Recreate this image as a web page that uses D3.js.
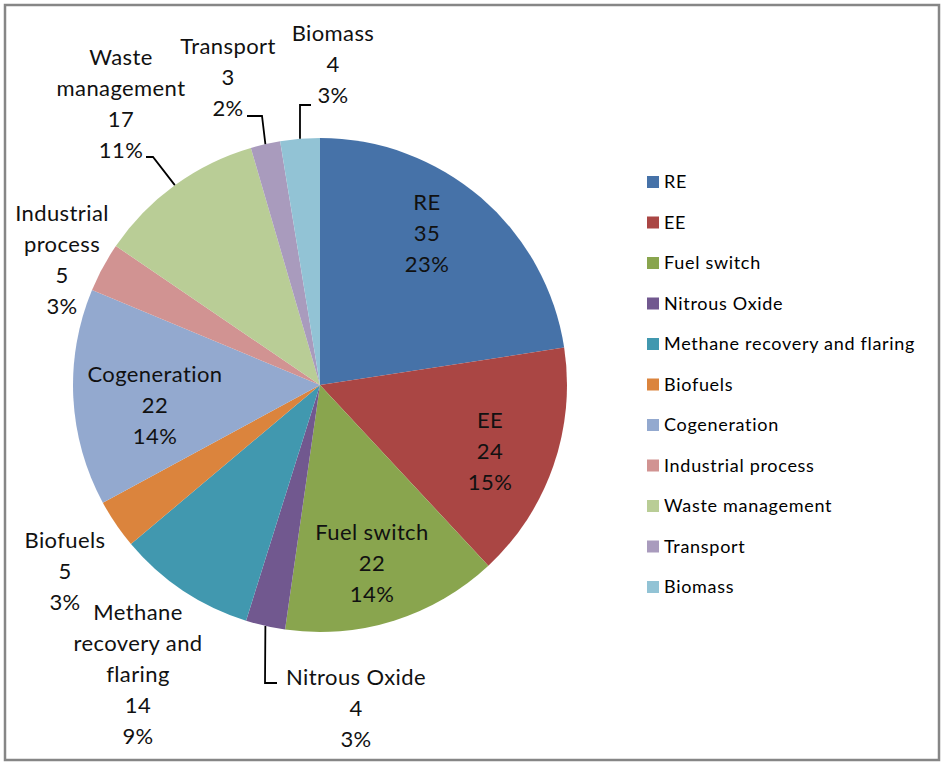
<!DOCTYPE html>
<html>
<head>
<meta charset="utf-8">
<script src="https://cdn.jsdelivr.net/npm/d3@7.9.0/dist/d3.min.js"></script>
<style>
  html, body { margin: 0; padding: 0; background: #fff; }
  svg { display: block; font-family: Lato, 'Open Sans', sans-serif; }
</style>
</head>
<body>
<svg id="chart" width="944" height="763"></svg>
<script>
// chart data
const categories = ['RE', 'EE', 'Fuel switch', 'Nitrous Oxide', 'Methane recovery and flaring',
  'Biofuels', 'Cogeneration', 'Industrial process', 'Waste management', 'Transport', 'Biomass'];
const values = [35, 24, 22, 4, 14, 5, 22, 5, 17, 3, 4];
const colors = ['#4672a8', '#aa4644', '#89a54e', '#71588f', '#4198af', '#db843d',
  '#93a9cf', '#d19392', '#b9cd96', '#a99bbd', '#92c3d5'];

// how each data label is broken into lines (name part)
const labelNames = [['RE'], ['EE'], ['Fuel switch'], ['Nitrous Oxide'], ['Methane', 'recovery and', 'flaring'],
  ['Biofuels'], ['Cogeneration'], ['Industrial', 'process'], ['Waste', 'management'], ['Transport'], ['Biomass']];

// label placement (centre x, first line y), roughly where excel put them
const labelPos = {
  'RE': [427, 202],
  'EE': [490, 420],
  'Fuel switch': [372, 532],
  'Nitrous Oxide': [356, 677],
  'Methane recovery and flaring': [138, 612],
  'Biofuels': [65, 540],
  'Cogeneration': [155, 374],
  'Industrial process': [62, 213],
  'Waste management': [121, 57],
  'Transport': [228, 46],
  'Biomass': [333, 33]
};

// leader lines: elbow point and end point next to the label
const leaders = {
  'Nitrous Oxide': [[265, 683], [277, 683]],
  'Waste management': [[153, 157], [146, 157]],
  'Transport': [[262, 116], [247, 116]],
  'Biomass': [[300, 105], [311, 105]]
};

const width = 944;
const height = 763;
const cx = 320, cy = 385, radius = 247;
const lineH = 31;

const svg = d3.select('#chart');

// outer frame
svg.append('rect')
  .attr('x', 5).attr('y', 5)
  .attr('width', 934).attr('height', 755)
  .attr('fill', '#fff')
  .attr('stroke', '#868686')
  .attr('stroke-width', 2.5);

const data = categories.map((c, i) => ({ name: c, value: values[i], color: colors[i], lines: labelNames[i] }));
const total = d3.sum(values);

const pie = d3.pie().value(d => d.value).sort(null);
const arcs = pie(data);
const arc = d3.arc().innerRadius(0).outerRadius(radius);

const g = svg.append('g').attr('transform', `translate(${cx},${cy})`);

g.selectAll('path')
  .data(arcs)
  .join('path')
  .attr('d', arc)
  .attr('fill', d => d.data.color);

// leader lines, from the middle of the slice edge
const lineGen = d3.line();
arcs.filter(d => leaders[d.data.name]).forEach(d => {
  const mid = (d.startAngle + d.endAngle) / 2;
  const p0 = [cx + radius * Math.sin(mid), cy - radius * Math.cos(mid)];
  const pts = [p0, ...leaders[d.data.name]];
  svg.append('path')
    .attr('d', lineGen(pts))
    .attr('fill', 'none')
    .attr('stroke', '#000')
    .attr('stroke-width', 1.8);
});

// data labels: name / value / percent
const fmtPct = v => Math.round(v / total * 100) + '%';
const labels = svg.append('g').attr('class', 'labels');
data.forEach(d => {
  const [x, y] = labelPos[d.name];
  const rows = [...d.lines, String(d.value), fmtPct(d.value)];
  const t = labels.append('text')
    .attr('text-anchor', 'middle')
    .attr('font-size', 22)
    .attr('letter-spacing', 0.4)
    .attr('fill', '#111');
  rows.forEach((r, i) => {
    t.append('tspan')
      .attr('x', x)
      .attr('y', y + i * lineH)
      .attr('dy', '0.35em')
      .text(r);
  });
});

// legend
const legend = svg.append('g').attr('class', 'legend');
const legendY = d3.scalePoint().domain(categories).range([182, 587]);
const item = legend.selectAll('g')
  .data(data)
  .join('g')
  .attr('transform', d => `translate(647, ${legendY(d.name)})`);

item.append('rect')
  .attr('x', 0).attr('y', -6)
  .attr('width', 12).attr('height', 12)
  .attr('fill', d => d.color);

item.append('text')
  .attr('x', 17)
  .attr('dy', '0.35em')
  .attr('font-size', 18)
  .attr('letter-spacing', 0.7)
  .attr('fill', '#000')
  .text(d => d.name);
</script>
</body>
</html>
